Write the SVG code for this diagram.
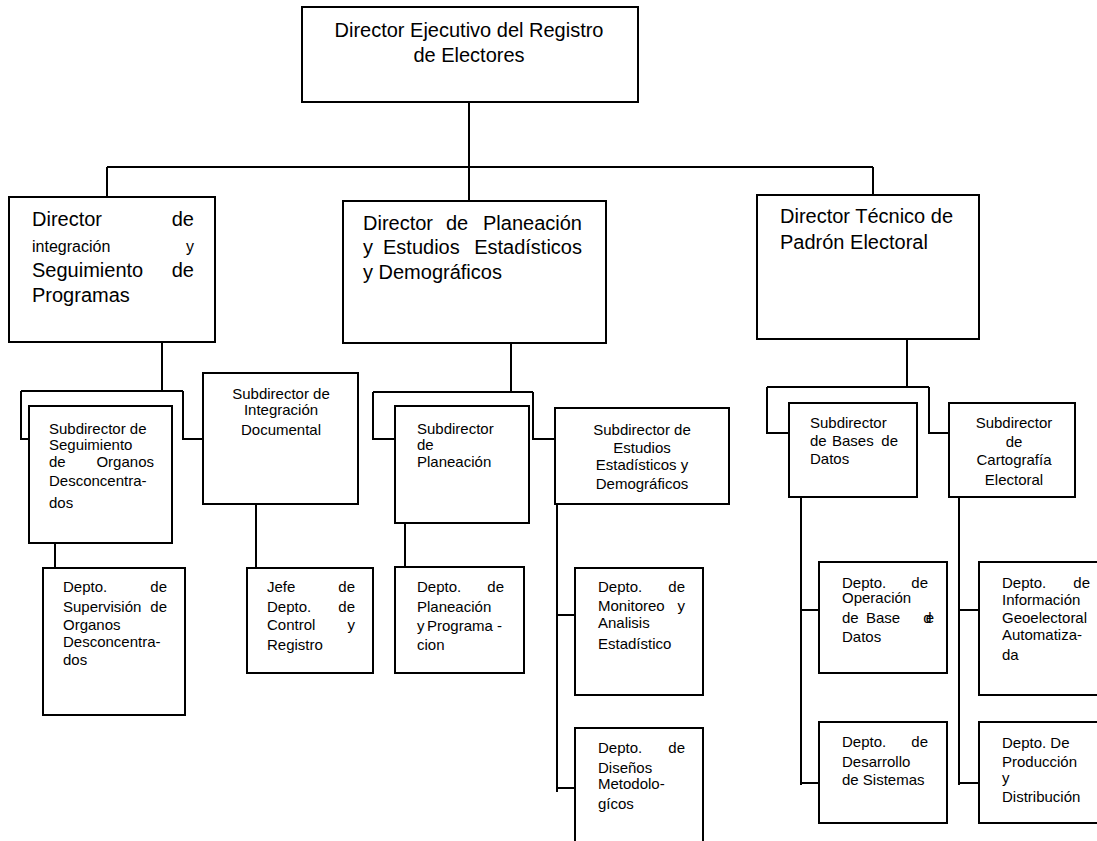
<svg xmlns="http://www.w3.org/2000/svg" width="1097" height="841" viewBox="0 0 1097 841">
<style>
rect.b{fill:#fff;stroke:#000;stroke-width:2}
#connectors path{fill:none;stroke:#000;stroke-width:2}
text{font-family:"Liberation Sans",Arial,sans-serif;fill:#000}
.l{font-size:20px}
.s{font-size:15px}
.m{font-size:16px}
.e{text-anchor:end}
.c{text-anchor:middle}
</style>
<rect width="1097" height="841" fill="#fff"/>
<g id="connectors">
<path d="M469 102V201M107 167H873M107 167V197M873 167V195"/>
<path d="M162 342V391M21 391H183M21 391V439H29M183 391V439H203"/>
<path d="M55 543V568M256 504V568"/>
<path d="M511 343V392M373 392H533M373 392V439H395M533 392V439H555"/>
<path d="M405 523V567M557 504V792M557 615H577M557 788H577"/>
<path d="M907 339V387M767 387H929M767 387V433H789M929 387V433H949"/>
<path d="M801 497V785M801 610H821M801 783H821M959 497V785M959 610H981M959 783H981"/>
</g>
<g id="n-ejecutivo">
<rect class="b" x="302" y="7" width="336" height="95"/>
<text class="l c" x="469" y="37">Director Ejecutivo del Registro</text>
<text class="l c" x="469" y="62">de Electores</text>
</g>
<g id="n-integracion">
<rect class="b" x="9" y="197" width="206" height="145"/>
<text class="l" x="32" y="226">Director</text><text class="l e" x="194" y="226">de</text>
<text class="m" x="32" y="252">integración</text><text class="m e" x="194" y="252">y</text>
<text class="l" x="32" y="277">Seguimiento</text><text class="l e" x="194" y="277">de</text>
<text class="l" x="32" y="302">Programas</text>
</g>
<g id="n-planeacion">
<rect class="b" x="343" y="201" width="263" height="142"/>
<text class="l" x="363" y="230">Director</text><text class="l" x="446" y="230">de</text><text class="l e" x="582" y="230">Planeación</text>
<text class="l" x="363" y="254">y</text><text class="l" x="383" y="254">Estudios</text><text class="l e" x="582" y="254">Estadísticos</text>
<text class="l" x="363" y="279">y Demográficos</text>
</g>
<g id="n-tecnico">
<rect class="b" x="757" y="195" width="222" height="144"/>
<text class="l" x="780" y="223">Director Técnico de</text>
<text class="l" x="780" y="249">Padrón Electoral</text>
</g>
<g id="n-sub-seguimiento">
<rect class="b" x="29" y="406" width="143" height="137"/>
<text class="s" x="49" y="434">Subdirector de</text>
<text class="s" x="49" y="450">Seguimiento</text>
<text class="s" x="49" y="467">de</text><text class="s e" x="154" y="467">Organos</text>
<text class="s" x="49" y="486">Desconcentra-</text>
<text class="s" x="49" y="508">dos</text>
</g>
<g id="n-sub-integracion">
<rect class="b" x="203" y="373" width="155" height="131"/>
<text class="s c" x="281" y="399">Subdirector de</text>
<text class="s c" x="281" y="415">Integración</text>
<text class="s c" x="281" y="435">Documental</text>
</g>
<g id="n-sub-planeacion">
<rect class="b" x="395" y="406" width="134" height="117"/>
<text class="s" x="417" y="434">Subdirector</text>
<text class="s" x="417" y="450">de</text>
<text class="s" x="417" y="467">Planeación</text>
</g>
<g id="n-sub-estudios">
<rect class="b" x="555" y="408" width="174" height="96"/>
<text class="s c" x="642" y="435">Subdirector de</text>
<text class="s c" x="642" y="453">Estudios</text>
<text class="s c" x="642" y="470">Estadísticos  y</text>
<text class="s c" x="642" y="489">Demográficos</text>
</g>
<g id="n-sub-bases">
<rect class="b" x="789" y="403" width="128" height="94"/>
<text class="s" x="810" y="428">Subdirector</text>
<text class="s" x="810" y="446">de</text><text class="s" x="832" y="446">Bases</text><text class="s e" x="898" y="446">de</text>
<text class="s" x="810" y="464">Datos</text>
</g>
<g id="n-sub-cartografia">
<rect class="b" x="949" y="403" width="126" height="94"/>
<text class="s c" x="1014" y="428">Subdirector</text>
<text class="s c" x="1014" y="447">de</text>
<text class="s c" x="1014" y="465">Cartografía</text>
<text class="s c" x="1014" y="485">Electoral</text>
</g>
<g id="n-depto-supervision">
<rect class="b" x="43" y="568" width="142" height="147"/>
<text class="s" x="63" y="592">Depto.</text><text class="s e" x="167" y="592">de</text>
<text class="s" x="63" y="612">Supervisión</text><text class="s e" x="167" y="612">de</text>
<text class="s" x="63" y="630">Organos</text>
<text class="s" x="63" y="647">Desconcentra-</text>
<text class="s" x="63" y="665">dos</text>
</g>
<g id="n-jefe-control">
<rect class="b" x="247" y="568" width="126" height="105"/>
<text class="s" x="267" y="592">Jefe</text><text class="s e" x="355" y="592">de</text>
<text class="s" x="267" y="612">Depto.</text><text class="s e" x="355" y="612">de</text>
<text class="s" x="267" y="630">Control</text><text class="s e" x="355" y="630">y</text>
<text class="s" x="267" y="650">Registro</text>
</g>
<g id="n-depto-planeacion">
<rect class="b" x="395" y="567" width="129" height="106"/>
<text class="s" x="417" y="592">Depto.</text><text class="s e" x="504" y="592">de</text>
<text class="s" x="417" y="612">Planeación</text>
<text class="s" x="417" y="631">y</text><text class="s e" x="502" y="631">Programa -</text>
<text class="s" x="417" y="650">cion</text>
</g>
<g id="n-depto-monitoreo">
<rect class="b" x="575" y="568" width="128" height="127"/>
<text class="s" x="598" y="592">Depto.</text><text class="s e" x="685" y="592">de</text>
<text class="s" x="598" y="611">Monitoreo</text><text class="s e" x="685" y="611">y</text>
<text class="s" x="598" y="628">Analisis</text>
<text class="s" x="598" y="649">Estadístico</text>
</g>
<g id="n-depto-disenos">
<rect class="b" x="575" y="728" width="128" height="120"/>
<text class="s" x="598" y="753">Depto.</text><text class="s e" x="685" y="753">de</text>
<text class="s" x="598" y="773">Diseños</text>
<text class="s" x="598" y="789">Metodolo-</text>
<text class="s" x="598" y="809">gícos</text>
</g>
<g id="n-depto-operacion">
<rect class="b" x="819" y="562" width="128" height="111"/>
<text class="s" x="842" y="588">Depto.</text><text class="s e" x="928" y="588">de</text>
<text class="s" x="842" y="603">Operación</text>
<text class="s" x="842" y="623">de</text><text class="s" x="866" y="623">Base</text><text class="s e" x="928" y="623" letter-spacing="-6">de</text>
<text class="s" x="842" y="642">Datos</text>
</g>
<g id="n-depto-desarrollo">
<rect class="b" x="819" y="722" width="128" height="101"/>
<text class="s" x="842" y="747">Depto.</text><text class="s e" x="928" y="747">de</text>
<text class="s" x="842" y="767">Desarrollo</text>
<text class="s" x="842" y="785">de Sistemas</text>
</g>
<g id="n-depto-informacion">
<rect class="b" x="979" y="562" width="125" height="133"/>
<text class="s" x="1002" y="588">Depto.</text><text class="s e" x="1090" y="588">de</text>
<text class="s" x="1002" y="605">Información</text>
<text class="s" x="1002" y="623">Geoelectoral</text>
<text class="s" x="1002" y="640">Automatiza-</text>
<text class="s" x="1002" y="660">da</text>
</g>
<g id="n-depto-produccion">
<rect class="b" x="979" y="722" width="125" height="101"/>
<text class="s" x="1002" y="748">Depto. De</text>
<text class="s" x="1002" y="767">Producción</text>
<text class="s" x="1002" y="783">y</text>
<text class="s" x="1002" y="802">Distribución</text>
</g>
</svg>
